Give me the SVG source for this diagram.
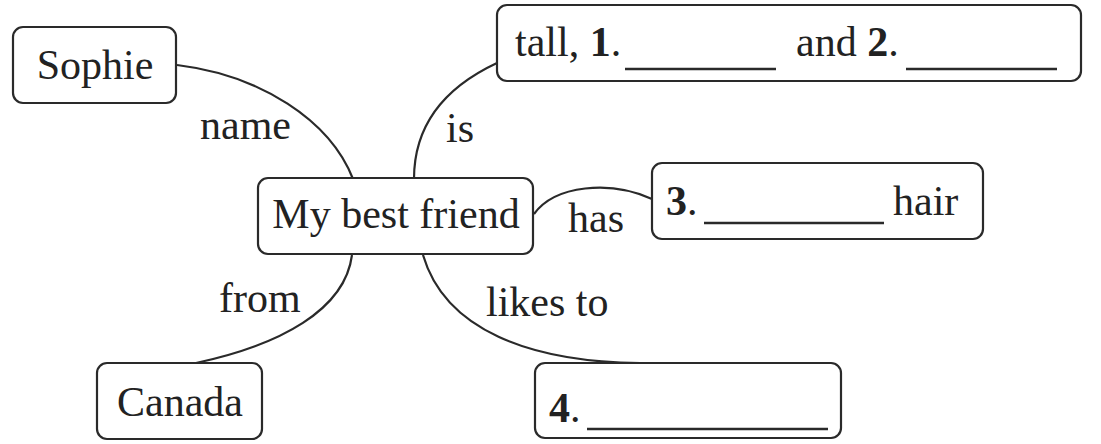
<svg xmlns="http://www.w3.org/2000/svg" width="1101" height="444" viewBox="0 0 1101 444">
  <style>
    .box { fill: #ffffff; stroke: #2a2a2a; stroke-width: 2.2; }
    .conn { fill: none; stroke: #2a2a2a; stroke-width: 2.2; }
    .blank { stroke: #2a2a2a; stroke-width: 2.4; }
    text { font-family: "Liberation Serif", "Times New Roman", serif; font-size: 42px; fill: #222222; }
    .b { font-weight: bold; }
  </style>
  <rect width="1101" height="444" fill="#ffffff"/>
  <g id="connectors">
    <path class="conn" d="M177,65 C260,75 330,120 353,179"/>
    <path class="conn" d="M414,179 C414,120 450,85 497,63"/>
    <path class="conn" d="M534,214 C555,185 610,180 652,199"/>
    <path class="conn" d="M352,255 C345,310 280,345 196,363"/>
    <path class="conn" d="M423,255 C445,330 530,362 640,363"/>
    <text x="200" y="139">name</text>
    <text x="446" y="142">is</text>
    <text x="568" y="232">has</text>
    <text x="219" y="312">from</text>
    <text x="486" y="316">likes to</text>
  </g>
  <g id="sophie">
    <rect class="box" x="13" y="27" width="163" height="76" rx="10"/>
    <text x="95" y="79" text-anchor="middle">Sophie</text>
  </g>
  <g id="best-friend">
    <rect class="box" x="258" y="178" width="275" height="76" rx="10"/>
    <text x="396" y="228" text-anchor="middle">My best friend</text>
  </g>
  <g id="canada">
    <rect class="box" x="97" y="363" width="165" height="76" rx="10"/>
    <text x="180" y="416" text-anchor="middle">Canada</text>
  </g>
  <g id="tall">
    <rect class="box" x="497" y="5" width="584" height="76" rx="10"/>
    <text y="56"><tspan x="515">tall, </tspan><tspan class="b">1</tspan><tspan>.</tspan><tspan x="796">and </tspan><tspan class="b">2</tspan><tspan>.</tspan></text>
    <line class="blank" x1="625" y1="69" x2="776" y2="69"/>
    <line class="blank" x1="906" y1="69" x2="1057" y2="69"/>
  </g>
  <g id="hair">
    <rect class="box" x="652" y="163" width="331" height="76" rx="10"/>
    <text y="215"><tspan x="666" class="b">3</tspan><tspan>.</tspan><tspan x="893">hair</tspan></text>
    <line class="blank" x1="704" y1="223" x2="884" y2="223"/>
  </g>
  <g id="likes">
    <rect class="box" x="535" y="363" width="306" height="75" rx="10"/>
    <text y="422"><tspan x="549" class="b">4</tspan><tspan>.</tspan></text>
    <line class="blank" x1="587" y1="429" x2="828" y2="429"/>
  </g>
</svg>
